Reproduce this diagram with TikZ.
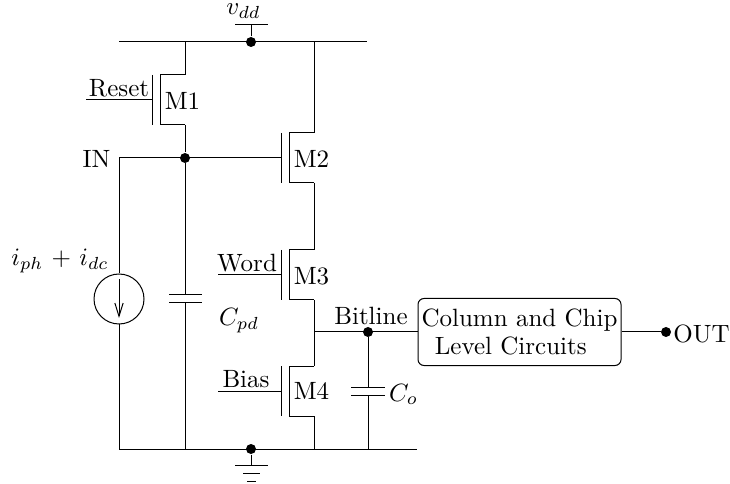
\documentclass[tikz,border=0pt]{standalone}
\usepackage{amssymb,latexsym}
\usepackage{tikz}
\usetikzlibrary{arrows.meta}

\tikzset{
  wire/.style={line width=0.4pt},
  junction/.style={circle,fill=black,inner sep=0pt,minimum size=10*0.4pt},
  txt/.style={inner sep=0pt},
  mosfet/.pic={
    \coordinate (-g) at (0,0);
    \coordinate (-d) at (33,-25);
    \coordinate (-s) at (33,25);
    \draw[wire] (0,-25) -- (0,25);
    \draw[wire] (33,-25) -- (8,-25) -- (8,25) -- (33,25);
  }
}

\begin{document}
\begin{tikzpicture}[x=0.4pt,y=-0.4pt]
  \useasboundingbox (0,0) rectangle (730,484);

  % rails
  \coordinate (vl) at (119,42);
  \coordinate (vr) at (367,42);
  \coordinate (gl) at (119,449);
  \coordinate (gr) at (417,449);
  \node[junction] (vdot) at (251,42) {};
  \node[junction] (gdot) at (251,449) {};
  \draw[wire] (vl) -- (vr);
  \draw[wire] (gl) -- (gr);

  % supply and ground
  \coordinate (vtop) at (251,25);
  \node[txt] (vdd) at (243.5,11) {$v_{dd}$};
  \draw[wire] (vdot) -- (vtop);
  \draw[wire] (235,25) -- (268,25);
  \coordinate (gbot) at (251,465);
  \draw[wire] (gdot) -- (gbot);
  \draw[wire] (235,465) -- (268,465);
  \draw[wire] (243,473.5) -- (260,473.5);
  \draw[wire] (247,481.5) -- (256,481.5);

  % transistors
  \pic (m1) at (152,100) {mosfet};
  \pic (m2) at (281,158) {mosfet};
  \pic (m3) at (281,275) {mosfet};
  \pic (m4) at (281,391) {mosfet};
  \node[txt] (m1l) at (182.5,101) {M1};
  \node[txt] (m2l) at (311.5,159) {M2};
  \node[txt] (m3l) at (311.5,276) {M3};
  \node[txt] (m4l) at (311.5,391) {M4};

  % gate leads
  \coordinate (rst) at (86,100);
  \coordinate (wrd) at (218,275);
  \coordinate (bia) at (218,391);
  \draw[wire] (rst) -- (m1-g);
  \draw[wire] (wrd) -- (m3-g);
  \draw[wire] (bia) -- (m4-g);
  \node[txt,above=1pt] (rstl) at (119,100) {Reset};
  \node[txt,above=1pt] (wrdl) at (247,275) {Word};
  \node[txt,above=1pt] (bial) at (246,391) {Bias};

  % node IN
  \coordinate (inl) at (119,158);
  \node[junction] (indot) at (185,158) {};
  \node[txt] (inlab) at (96.5,159) {IN};
  \draw[wire] (inl) -- (m2-g);
  \draw[wire] (185,42) -- (m1-d);
  \draw[wire] (m1-s) -- (indot);
  \draw[wire] (314,42) -- (m2-d);
  \draw[wire] (m2-s) -- (m3-d);
  \draw[wire] (m3-s) -- (m4-d);
  \draw[wire] (m4-s) -- (314,449);

  % current source
  \node[draw,circle,inner sep=0pt,minimum size=50*0.4pt] (isrc) at (119,299) {};
  \node[txt] (isrcl) at (60,261) {$i_{ph}\mskip2mu+\mskip2mu i_{dc}$};
  \draw[wire] (inl) -- (isrc.north);
  \draw[wire] (isrc.south) -- (gl);
  \draw[wire,-{Straight Barb[length=5.3pt,width=3.3pt]}] (119,279) -- (119,318);

  % photodiode cap
  \coordinate (cpt) at (185,295);
  \coordinate (cpb) at (185,303);
  \draw[wire] (indot) -- (cpt);
  \draw[wire] (cpb) -- (185,449);
  \draw[wire] (169,295) -- (202,295);
  \draw[wire] (169,303) -- (202,303);
  \node[txt] (cpdl) at (239,321) {$C_{pd}$};

  % bitline
  \coordinate (bl) at (314,332);
  \node[junction] (bdot) at (368,332) {};
  \node[txt] (bll) at (371,316) {Bitline};
  \node[draw,rounded corners=2.4pt,minimum width=203*0.4pt,minimum height=67*0.4pt,inner sep=0pt,align=left] (cols) at (519.5,332) {Column and Chip\\[-1pt]\hspace*{5.3pt}Level Circuits};
  \draw[wire] (bl) -- (cols.west);

  % output cap
  \coordinate (cot) at (368,387);
  \coordinate (cob) at (368,395);
  \draw[wire] (bdot) -- (cot);
  \draw[wire] (cob) -- (368,449);
  \draw[wire] (351,387) -- (385,387);
  \draw[wire] (351,395) -- (385,395);
  \node[txt] (col) at (403.5,394.5) {$C_o$};

  % output
  \node[junction] (odot) at (666,332) {};
  \node[txt] (outl) at (701.5,333.5) {OUT};
  \draw[wire] (cols.east) -- (odot);
\end{tikzpicture}
\end{document}
